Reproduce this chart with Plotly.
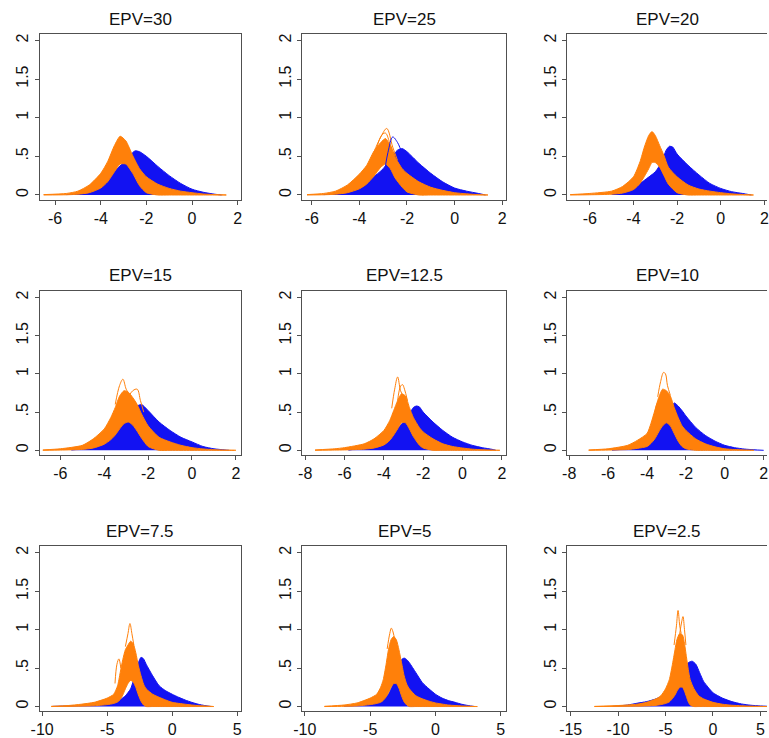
import plotly.graph_objects as go

# ---------------- data ----------------
TITLES = ["EPV=30", "EPV=25", "EPV=20", "EPV=15", "EPV=12.5", "EPV=10", "EPV=7.5", "EPV=5", "EPV=2.5"]

Y_TICKS = [0, 0.5, 1, 1.5, 2]
Y_TICKTEXT = ["0", ".5", "1", "1.5", "2"]
X_TICKS_A = [-6, -4, -2, 0, 2]
X_TICKS_B = [-8, -6, -4, -2, 0, 2]
X_TICKS_C = [-10, -5, 0, 5]
X_TICKS_D = [-15, -10, -5, 0, 5]

# Panel 1 : EPV=30
P1_OR_X = [-6.5, -5.5, -5.0, -4.5, -4.0, -3.7, -3.4, -3.15, -2.9, -2.6, -2.3, -2.0, -1.5, -1.0, -0.5, 0, 0.5, 1.0, 1.5]
P1_OR_HI = [0.005, 0.02, 0.05, 0.13, 0.28, 0.43, 0.64, 0.76, 0.70, 0.51, 0.34, 0.235, 0.14, 0.085, 0.05, 0.03, 0.013, 0.005, 0]
P1_OR_LO = [0, 0.003, 0.01, 0.03, 0.09, 0.17, 0.3, 0.4, 0.4, 0.28, 0.12, 0.03, 0, 0, 0, 0, 0, 0, 0]
P1_BL_X = [-5.5, -5.0, -4.5, -4.0, -3.5, -3.0, -2.7, -2.5, -2.3, -2.0, -1.5, -1.0, -0.5, 0, 0.5, 1.0, 1.3]
P1_BL_HI = [0.005, 0.02, 0.06, 0.15, 0.28, 0.42, 0.52, 0.57, 0.56, 0.5, 0.37, 0.25, 0.15, 0.075, 0.035, 0.01, 0]

# Panel 2 : EPV=25
P2_OR_X = [-6.2, -5.5, -5.0, -4.5, -4.0, -3.7, -3.4, -3.1, -2.9, -2.7, -2.5, -2.2, -2.0, -1.5, -1.0, -0.5, 0, 0.5, 1.0, 1.4]
P2_OR_HI = [0.005, 0.02, 0.05, 0.13, 0.27, 0.38, 0.56, 0.68, 0.73, 0.64, 0.49, 0.34, 0.28, 0.17, 0.1, 0.06, 0.03, 0.015, 0.005, 0]
P2_OR_LO = [0, 0.003, 0.01, 0.03, 0.08, 0.14, 0.24, 0.36, 0.4, 0.34, 0.22, 0.1, 0.04, 0, 0, 0, 0, 0, 0, 0]
P2_BL_X = [-5.5, -5.0, -4.5, -4.0, -3.5, -3.0, -2.7, -2.4, -2.2, -2.0, -1.5, -1.0, -0.5, 0, 0.5, 1.0, 1.3]
P2_BL_HI = [0.005, 0.015, 0.04, 0.107, 0.21, 0.34, 0.47, 0.58, 0.6, 0.56, 0.41, 0.28, 0.17, 0.09, 0.05, 0.02, 0]
P2_SPK_OR1_X = [-3.4, -3.1, -2.85, -2.6, -2.4]
P2_SPK_OR1_Y = [0.55, 0.75, 0.86, 0.62, 0.45]
P2_SPK_OR2_X = [-3.3, -3.05, -2.9, -2.7, -2.5]
P2_SPK_OR2_Y = [0.58, 0.78, 0.80, 0.65, 0.5]
P2_SPK_BL1_X = [-3.3, -3.0, -2.8, -2.6, -2.4, -2.2, -2.0]
P2_SPK_BL1_Y = [0.05, 0.25, 0.55, 0.75, 0.68, 0.55, 0.48]

# Panel 3 : EPV=20
P3_OR_X = [-6.9, -6.0, -5.0, -4.5, -4.0, -3.7, -3.5, -3.3, -3.15, -3.0, -2.8, -2.6, -2.4, -2.0, -1.5, -1.0, -0.5, 0, 0.5, 1.0, 1.5]
P3_OR_HI = [0.005, 0.02, 0.05, 0.11, 0.235, 0.43, 0.62, 0.77, 0.82, 0.77, 0.64, 0.51, 0.36, 0.235, 0.13, 0.077, 0.05, 0.03, 0.015, 0.006, 0]
P3_OR_LO = [0, 0.003, 0.01, 0.025, 0.07, 0.15, 0.24, 0.34, 0.42, 0.42, 0.36, 0.25, 0.14, 0.03, 0, 0, 0, 0, 0, 0, 0]
P3_BL_X = [-5.0, -4.5, -4.0, -3.5, -3.0, -2.7, -2.5, -2.35, -2.2, -2.0, -1.5, -1.0, -0.5, 0, 0.5, 1.0, 1.4]
P3_BL_HI = [0.01, 0.03, 0.08, 0.19, 0.3, 0.43, 0.58, 0.63, 0.62, 0.53, 0.385, 0.26, 0.15, 0.085, 0.043, 0.02, 0]

# Panel 4 : EPV=15
P4_OR_X = [-6.8, -6.0, -5.0, -4.5, -4.0, -3.7, -3.5, -3.3, -3.1, -2.9, -2.7, -2.5, -2.3, -2.0, -1.5, -1.0, -0.5, 0, 0.5, 1.0, 1.5, 2.0]
P4_OR_HI = [0.005, 0.02, 0.065, 0.15, 0.28, 0.43, 0.56, 0.71, 0.78, 0.76, 0.69, 0.6, 0.475, 0.32, 0.17, 0.11, 0.065, 0.035, 0.018, 0.008, 0.003, 0]
P4_OR_LO = [0, 0.003, 0.012, 0.03, 0.08, 0.14, 0.2, 0.28, 0.35, 0.37, 0.33, 0.25, 0.16, 0.05, 0, 0, 0, 0, 0, 0, 0, 0]
P4_BL_X = [-5.5, -5.0, -4.5, -4.0, -3.5, -3.0, -2.7, -2.5, -2.3, -2.0, -1.5, -1.0, -0.5, 0, 0.5, 1.0, 1.5, 1.7]
P4_BL_HI = [0.005, 0.02, 0.05, 0.15, 0.28, 0.41, 0.52, 0.58, 0.6, 0.52, 0.37, 0.26, 0.17, 0.11, 0.05, 0.02, 0.005, 0]
P4_SPK_OR1_X = [-3.5, -3.3, -3.15, -3.0, -2.8]
P4_SPK_OR1_Y = [0.6, 0.85, 0.93, 0.8, 0.7]
P4_SPK_OR2_X = [-2.9, -2.7, -2.5, -2.35, -2.2]
P4_SPK_OR2_Y = [0.7, 0.78, 0.8, 0.65, 0.5]

# Panel 5 : EPV=12.5
P5_OR_X = [-7.5, -6.5, -6.0, -5.0, -4.5, -4.0, -3.7, -3.5, -3.3, -3.1, -2.9, -2.7, -2.5, -2.2, -2.0, -1.5, -1.0, -0.5, 0, 0.5, 1.0, 1.5, 1.9]
P5_OR_HI = [0.005, 0.02, 0.035, 0.085, 0.15, 0.26, 0.39, 0.52, 0.65, 0.74, 0.71, 0.56, 0.43, 0.3, 0.24, 0.15, 0.085, 0.05, 0.03, 0.015, 0.007, 0.002, 0]
P5_OR_LO = [0, 0.003, 0.005, 0.015, 0.03, 0.07, 0.13, 0.2, 0.28, 0.36, 0.36, 0.28, 0.18, 0.07, 0.03, 0, 0, 0, 0, 0, 0, 0, 0]
P5_BL_X = [-5.8, -5.0, -4.5, -4.0, -3.5, -3.0, -2.7, -2.5, -2.35, -2.2, -2.0, -1.5, -1.0, -0.5, 0, 0.5, 1.0, 1.5, 1.7]
P5_BL_HI = [0.003, 0.035, 0.07, 0.13, 0.24, 0.37, 0.475, 0.56, 0.58, 0.57, 0.5, 0.37, 0.26, 0.17, 0.11, 0.065, 0.035, 0.013, 0]
P5_SPK_OR1_X = [-3.6, -3.45, -3.3, -3.15, -3.0]
P5_SPK_OR1_Y = [0.55, 0.8, 0.96, 0.78, 0.7]
P5_SPK_OR2_X = [-3.3, -3.15, -3.05, -2.95, -2.8]
P5_SPK_OR2_Y = [0.65, 0.84, 0.86, 0.8, 0.65]

# Panel 6 : EPV=10
P6_OR_X = [-7.0, -6.0, -5.0, -4.5, -4.0, -3.8, -3.6, -3.4, -3.2, -3.0, -2.8, -2.6, -2.4, -2.2, -2.0, -1.5, -1.0, -0.5, 0, 0.5, 1.0, 1.5]
P6_OR_HI = [0.005, 0.02, 0.065, 0.13, 0.22, 0.35, 0.52, 0.69, 0.8, 0.78, 0.71, 0.56, 0.43, 0.32, 0.26, 0.15, 0.085, 0.045, 0.02, 0.01, 0.004, 0]
P6_OR_LO = [0, 0.003, 0.01, 0.025, 0.05, 0.09, 0.15, 0.24, 0.32, 0.36, 0.32, 0.22, 0.12, 0.05, 0.02, 0, 0, 0, 0, 0, 0, 0]
P6_BL_X = [-5.8, -5.0, -4.5, -4.0, -3.6, -3.2, -3.0, -2.8, -2.6, -2.4, -2.2, -2.0, -1.5, -1.0, -0.5, 0, 0.5, 1.0, 1.5, 2.0]
P6_BL_HI = [0.003, 0.02, 0.05, 0.13, 0.22, 0.35, 0.43, 0.54, 0.62, 0.58, 0.52, 0.45, 0.3, 0.195, 0.12, 0.065, 0.035, 0.017, 0.007, 0]
P6_SPK_OR1_X = [-3.45, -3.3, -3.15, -3.05, -2.95, -2.8]
P6_SPK_OR1_Y = [0.7, 0.9, 1.02, 1.0, 0.85, 0.72]
P6_SPK_OR2_X = [-3.6, -3.45, -3.35, -3.2]
P6_SPK_OR2_Y = [0.5, 0.62, 0.6, 0.7]

# Panel 7 : EPV=7.5
P7_OR_X = [-9.3, -8, -7, -6, -5, -4.5, -4.2, -4.0, -3.8, -3.6, -3.4, -3.2, -3.0, -2.8, -2.6, -2.4, -2.2, -2.0, -1.5, -1.0, -0.5, 0, 1, 2, 3, 3.2]
P7_OR_HI = [0.003, 0.013, 0.03, 0.055, 0.11, 0.16, 0.27, 0.44, 0.61, 0.74, 0.8, 0.85, 0.82, 0.7, 0.53, 0.4, 0.29, 0.23, 0.16, 0.12, 0.085, 0.055, 0.03, 0.012, 0.003, 0]
P7_OR_LO = [0, 0.002, 0.005, 0.01, 0.025, 0.04, 0.06, 0.09, 0.15, 0.23, 0.3, 0.34, 0.32, 0.25, 0.15, 0.07, 0.02, 0, 0, 0, 0, 0, 0, 0, 0, 0]
P7_BL_X = [-9.2, -8, -7, -6, -5, -4.5, -4.0, -3.6, -3.2, -3.0, -2.8, -2.6, -2.4, -2.2, -2.0, -1.5, -1.0, -0.5, 0, 0.5, 1, 1.5, 2, 2.5, 3]
P7_BL_HI = [0.002, 0.008, 0.015, 0.02, 0.04, 0.06, 0.09, 0.14, 0.23, 0.33, 0.46, 0.57, 0.64, 0.62, 0.55, 0.4, 0.27, 0.205, 0.16, 0.12, 0.085, 0.055, 0.03, 0.013, 0]
P7_SPK_OR1_X = [-3.6, -3.4, -3.25, -3.1, -2.95]
P7_SPK_OR1_Y = [0.78, 0.95, 1.08, 0.95, 0.8]
P7_SPK_OR2_X = [-4.4, -4.25, -4.1, -3.95]
P7_SPK_OR2_Y = [0.3, 0.55, 0.62, 0.5]

# Panel 8 : EPV=5
P8_OR_X = [-8.5, -7, -6, -5, -4.5, -4.2, -4.0, -3.8, -3.6, -3.4, -3.2, -3.0, -2.8, -2.6, -2.4, -2.2, -2.0, -1.5, -1.0, -0.5, 0, 1, 2, 3.2]
P8_OR_HI = [0.003, 0.02, 0.047, 0.11, 0.16, 0.25, 0.35, 0.53, 0.74, 0.87, 0.91, 0.87, 0.74, 0.57, 0.4, 0.29, 0.23, 0.14, 0.1, 0.07, 0.047, 0.02, 0.008, 0]
P8_OR_LO = [0, 0.003, 0.008, 0.025, 0.04, 0.055, 0.08, 0.12, 0.18, 0.25, 0.3, 0.3, 0.24, 0.14, 0.06, 0.02, 0, 0, 0, 0, 0, 0, 0, 0]
P8_BL_X = [-7, -6, -5, -4.5, -4.0, -3.6, -3.3, -3.0, -2.8, -2.6, -2.4, -2.2, -2.0, -1.5, -1.0, -0.5, 0, 0.5, 1, 1.5, 2, 2.5, 3.0]
P8_BL_HI = [0.008, 0.015, 0.035, 0.055, 0.1, 0.16, 0.27, 0.4, 0.53, 0.61, 0.63, 0.61, 0.57, 0.44, 0.31, 0.23, 0.16, 0.11, 0.077, 0.055, 0.03, 0.013, 0]
P8_SPK_OR1_X = [-3.7, -3.5, -3.38, -3.25, -3.1]
P8_SPK_OR1_Y = [0.75, 0.95, 1.02, 0.97, 0.85]

# Panel 9 : EPV=2.5
P9_OR_X = [-12.5, -10, -8, -7, -6, -5.5, -5, -4.6, -4.3, -4.0, -3.8, -3.5, -3.2, -3.0, -2.8, -2.6, -2.4, -2.0, -1.5, -1, 0, 1, 2, 3, 4, 5, 6]
P9_OR_HI = [0.002, 0.013, 0.03, 0.055, 0.1, 0.14, 0.23, 0.35, 0.53, 0.74, 0.87, 0.95, 0.93, 0.82, 0.65, 0.48, 0.35, 0.23, 0.14, 0.1, 0.055, 0.03, 0.017, 0.01, 0.005, 0.002, 0]
P9_OR_LO = [0, 0.002, 0.005, 0.008, 0.015, 0.025, 0.04, 0.06, 0.1, 0.15, 0.2, 0.25, 0.25, 0.2, 0.13, 0.06, 0.02, 0, 0, 0, 0, 0, 0, 0, 0, 0, 0]
P9_BL_X = [-10.6, -9, -8, -7, -6, -5, -4, -3.5, -3.0, -2.6, -2.2, -1.8, -1.4, -1.0, -0.5, 0, 1, 2, 3, 4, 5, 6]
P9_BL_HI = [0.002, 0.02, 0.043, 0.064, 0.1, 0.16, 0.27, 0.38, 0.5, 0.57, 0.59, 0.55, 0.44, 0.33, 0.25, 0.18, 0.11, 0.064, 0.034, 0.017, 0.008, 0.002]
P9_SPK_OR1_X = [-4.1, -3.85, -3.68, -3.5, -3.35]
P9_SPK_OR1_Y = [0.8, 1.05, 1.25, 1.05, 0.95]
P9_SPK_OR2_X = [-3.5, -3.3, -3.16, -3.0, -2.85]
P9_SPK_OR2_Y = [0.95, 1.1, 1.17, 1.0, 0.8]

# ---------------- layout helpers ----------------
W, H = 769, 738
ORANGE = "#ff800a"
BLUE = "#1212f2"
FRAME = "#505050"
FONT = "Liberation Sans Narrow, Liberation Sans, Arial, sans-serif"

COL_PX = [(31, 235.5), (297.5, 504), (566, 769)]
COL_CENTER = [133.25, 400.75, 668]
ROW_PX = [(34, 201), (293, 458), (550, 716)]
TITLE_Y = [20, 277, 535]

PANELS = [
    dict(orx=P1_OR_X, orh=P1_OR_HI, orl=P1_OR_LO, blx=P1_BL_X, blh=P1_BL_HI,
         spk_or=[], spk_bl=[], xr=[-6.68, 2.15], xt=X_TICKS_A),
    dict(orx=P2_OR_X, orh=P2_OR_HI, orl=P2_OR_LO, blx=P2_BL_X, blh=P2_BL_HI,
         spk_or=[(P2_SPK_OR1_X, P2_SPK_OR1_Y), (P2_SPK_OR2_X, P2_SPK_OR2_Y)],
         spk_bl=[(P2_SPK_BL1_X, P2_SPK_BL1_Y)], xr=[-6.4, 2.15], xt=X_TICKS_A),
    dict(orx=P3_OR_X, orh=P3_OR_HI, orl=P3_OR_LO, blx=P3_BL_X, blh=P3_BL_HI,
         spk_or=[], spk_bl=[], xr=[-7.05, 2.12], xt=X_TICKS_A),
    dict(orx=P4_OR_X, orh=P4_OR_HI, orl=P4_OR_LO, blx=P4_BL_X, blh=P4_BL_HI,
         spk_or=[(P4_SPK_OR1_X, P4_SPK_OR1_Y), (P4_SPK_OR2_X, P4_SPK_OR2_Y)],
         spk_bl=[], xr=[-6.95, 2.24], xt=X_TICKS_A),
    dict(orx=P5_OR_X, orh=P5_OR_HI, orl=P5_OR_LO, blx=P5_BL_X, blh=P5_BL_HI,
         spk_or=[(P5_SPK_OR1_X, P5_SPK_OR1_Y), (P5_SPK_OR2_X, P5_SPK_OR2_Y)],
         spk_bl=[], xr=[-8.15, 2.2], xt=X_TICKS_B),
    dict(orx=P6_OR_X, orh=P6_OR_HI, orl=P6_OR_LO, blx=P6_BL_X, blh=P6_BL_HI,
         spk_or=[(P6_SPK_OR1_X, P6_SPK_OR1_Y), (P6_SPK_OR2_X, P6_SPK_OR2_Y)],
         spk_bl=[], xr=[-8.12, 2.17], xt=X_TICKS_B),
    dict(orx=P7_OR_X, orh=P7_OR_HI, orl=P7_OR_LO, blx=P7_BL_X, blh=P7_BL_HI,
         spk_or=[(P7_SPK_OR1_X, P7_SPK_OR1_Y), (P7_SPK_OR2_X, P7_SPK_OR2_Y)],
         spk_bl=[], xr=[-10.2, 5.3], xt=X_TICKS_C),
    dict(orx=P8_OR_X, orh=P8_OR_HI, orl=P8_OR_LO, blx=P8_BL_X, blh=P8_BL_HI,
         spk_or=[(P8_SPK_OR1_X, P8_SPK_OR1_Y)],
         spk_bl=[], xr=[-10.2, 5.38], xt=X_TICKS_C),
    dict(orx=P9_OR_X, orh=P9_OR_HI, orl=P9_OR_LO, blx=P9_BL_X, blh=P9_BL_HI,
         spk_or=[(P9_SPK_OR1_X, P9_SPK_OR1_Y), (P9_SPK_OR2_X, P9_SPK_OR2_Y)],
         spk_bl=[], xr=[-15.4, 5.7], xt=X_TICKS_D),
]

fig = go.Figure()
layout_axes = {}
annotations = []

for i, p in enumerate(PANELS):
    r, c = divmod(i, 3)
    n = i + 1
    xa = "x" if n == 1 else f"x{n}"
    ya = "y" if n == 1 else f"y{n}"

    # blue bundle: filled down to the baseline
    fig.add_trace(go.Scatter(
        x=p["blx"], y=p["blh"], mode="lines", fill="tozeroy", fillcolor=BLUE,
        line=dict(color=BLUE, width=1, shape="spline", smoothing=0.6),
        xaxis=xa, yaxis=ya, hoverinfo="skip"))
    # orange bundle: band between lowest and highest curve
    xs = list(p["orx"])
    fig.add_trace(go.Scatter(
        x=xs + xs[::-1], y=list(p["orh"]) + list(p["orl"])[::-1],
        mode="lines", fill="toself", fillcolor=ORANGE,
        line=dict(color=ORANGE, width=1, shape="spline", smoothing=0.6),
        xaxis=xa, yaxis=ya, hoverinfo="skip"))
    for sx, sy in p["spk_or"]:
        fig.add_trace(go.Scatter(x=sx, y=sy, mode="lines",
                                 line=dict(color=ORANGE, width=1, shape="spline"),
                                 xaxis=xa, yaxis=ya, hoverinfo="skip"))
    for sx, sy in p["spk_bl"]:
        fig.add_trace(go.Scatter(x=sx, y=sy, mode="lines",
                                 line=dict(color=BLUE, width=1, shape="spline"),
                                 xaxis=xa, yaxis=ya, hoverinfo="skip"))

    x0, x1 = COL_PX[c]
    y0, y1 = ROW_PX[r]
    common = dict(showgrid=False, zeroline=False, showline=True,
                  linecolor=FRAME, linewidth=1, ticks="outside", ticklen=4,
                  tickcolor=FRAME, tickfont=dict(family=FONT, size=16, color="#111"))
    layout_axes["xaxis" if n == 1 else f"xaxis{n}"] = dict(
        common, mirror=True, domain=[x0 / W, min(x1 / W, 1.0)], range=p["xr"],
        tickvals=p["xt"], ticktext=[str(v) for v in p["xt"]],
        anchor=ya, ticklabeloverflow="allow")
    layout_axes["yaxis" if n == 1 else f"yaxis{n}"] = dict(
        common, mirror=(c < 2), domain=[1 - y1 / H, 1 - y0 / H], range=[-0.06, 2.085],
        tickvals=Y_TICKS, ticktext=Y_TICKTEXT, tickangle=-90, anchor=xa)

    annotations.append(dict(text=TITLES[i], x=COL_CENTER[c] / W, y=1 - TITLE_Y[r] / H,
                            xref="paper", yref="paper", showarrow=False,
                            xanchor="center", yanchor="middle",
                            font=dict(family=FONT, size=17, color="#111")))

fig.update_layout(width=W, height=H, margin=dict(l=0, r=0, t=0, b=0),
                  paper_bgcolor="white", plot_bgcolor="white",
                  showlegend=False, annotations=annotations, **layout_axes)

fig.write_html("out.html")
